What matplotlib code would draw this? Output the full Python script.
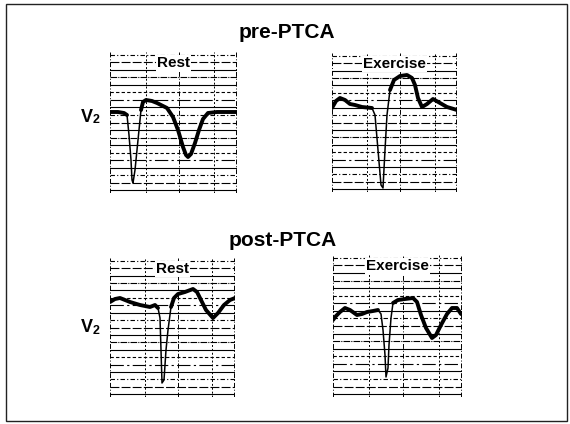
import numpy as np
import matplotlib
matplotlib.use("Agg")
import matplotlib.pyplot as plt
from matplotlib.patches import Rectangle

plt.rcParams['font.family'] = ['Liberation Sans', 'DejaVu Sans']

# ECG traces, lead V2 (time in ms, amplitude in mV)
rest_pre_t = [0, 40, 70, 85, 95, 105, 110, 115, 125, 135, 145, 155, 165, 180, 210, 235,
              285, 315, 340, 365, 380, 390, 405, 425, 445, 465, 490, 535, 635]
rest_pre_v = [0, 0, -0.05, -0.15, -1.15, -2.4, -3.4, -3.55, -2.9, -1.9, -0.9, 0.1, 0.5, 0.6,
              0.55, 0.45, 0.2, -0.25, -0.9, -1.75, -2.15, -2.25, -2.1, -1.55, -0.9, -0.35,
              -0.05, 0, 0]

ex_pre_t = [0, 20, 40, 65, 90, 115, 150, 200, 215, 230, 245, 255, 265, 275, 290, 310,
            340, 375, 400, 415, 430, 450, 475, 505, 540, 575, 625]
ex_pre_v = [0, 0.35, 0.5, 0.4, 0.2, 0.15, 0.05, 0, -0.35, -2.1, -3.85, -4.0, -2.1, -0.35,
            0.9, 1.4, 1.6, 1.65, 1.5, 1.15, 0.5, 0.05, 0.2, 0.45, 0.25, 0.05, -0.1]

rest_post_t = [0, 25, 50, 75, 100, 150, 200, 225, 240, 250, 255, 260, 270, 280, 290, 305,
               320, 340, 375, 415, 435, 455, 480, 515, 540, 570, 600, 625]
rest_post_v = [0.15, 0.3, 0.35, 0.25, 0.15, 0, -0.1, 0, -0.15, -0.65, -2.25, -3.9, -3.75,
               -2.25, -1.25, -0.1, 0.35, 0.55, 0.65, 0.8, 0.65, 0.25, -0.25, -0.65, -0.4,
               0, 0.25, 0.35]

ex_post_t = [0, 15, 35, 60, 85, 120, 145, 170, 200, 225, 240, 250, 260, 265, 275, 280,
             290, 300, 325, 360, 400, 420, 440, 465, 495, 515, 540, 570, 595, 620, 640]
ex_post_v = [-0.4, -0.2, 0, 0.2, 0.1, -0.15, -0.1, 0, 0.05, 0.1, -0.1, -0.9, -2.15, -3.25,
             -2.8, -1.65, -0.3, 0.45, 0.6, 0.65, 0.7, 0.5, -0.15, -0.8, -1.3, -1.15, -0.65,
             -0.1, 0.2, 0.2, -0.1]

panels = [
    # label, t, v, qrs window, xlim, ylim, pixel box (left, top, right, bottom)
    ("Rest", rest_pre_t, rest_pre_v, (85, 155), (0, 635), (-4.05, 3.0), (110, 52, 237, 193)),
    ("Exercise", ex_pre_t, ex_pre_v, (205, 285), (0, 625), (-4.2, 2.75), (332, 53, 457, 192)),
    ("Rest", rest_post_t, rest_post_v, (240, 305), (0, 625), (-4.6, 2.35), (110, 258, 235, 397)),
    ("Exercise", ex_post_t, ex_post_v, (228, 292), (0, 645), (-4.25, 2.85), (333, 255, 462, 397)),
]

W, H = 570, 424
fig = plt.figure(figsize=(W / 100, H / 100), dpi=100)

bg = fig.add_axes([0, 0, 1, 1])
bg.set_xlim(0, W)
bg.set_ylim(H, 0)
bg.axis('off')
bg.add_patch(Rectangle((6, 4), 561, 417, fill=False, ec='#222222', lw=1.0))

bg.text(287, 33, "pre-PTCA", ha='center', va='center', fontsize=15, fontweight='bold')
bg.text(283, 240, "post-PTCA", ha='center', va='center', fontsize=15, fontweight='bold')
for y in (117, 328):
    bg.text(81, y, "V", ha='left', va='center', fontsize=13, fontweight='bold')
    bg.text(93, y + 3, "2", ha='left', va='center', fontsize=9, fontweight='bold')

dash_styles = ['-', (0, (8, 2)), (0, (4, 2, 1, 2)), '-', (0, (12, 3, 2, 3)),
               (0, (3, 2)), '-', (0, (6, 1, 1, 1))]

for label, t, v, qrs, xl, yl, box in panels:
    l, tp, r, b = box
    ax = fig.add_axes([l / W, 1 - b / H, (r - l) / W, (b - tp) / H])
    ax.set_xlim(*xl)
    ax.set_ylim(*yl)
    ax.axis('off')

    # chart paper grid (broken scanned lines)
    for i, yf in enumerate(np.linspace(0.02, 0.98, 19)):
        ax.axhline(yl[0] + yf * (yl[1] - yl[0]), color='black', lw=0.8,
                   ls=dash_styles[i % len(dash_styles)], zorder=1)
    for j, xf in enumerate([0.0, 0.28, 0.54, 0.82, 0.995]):
        ax.axvline(xl[0] + xf * (xl[1] - xl[0]), color='black', lw=0.7,
                   ls=(0, (2, 2)) if j % 2 else (0, (5, 2, 1, 2)), zorder=1)

    t = np.array(t, dtype=float)
    v = np.array(v, dtype=float)
    ax.plot(t, v, color='black', lw=1.1, zorder=3, solid_capstyle='round',
            solid_joinstyle='round')
    slow = (t <= qrs[0]) | (t >= qrs[1])
    ax.plot(t, np.where(slow, v, np.nan), color='black', lw=2.8, zorder=4,
            solid_capstyle='round', solid_joinstyle='round')

    ax.text(0.5, 0.92, label, transform=ax.transAxes, ha='center', va='center',
            fontsize=11, fontweight='bold', zorder=5,
            bbox=dict(fc='white', ec='none', pad=1.0))

fig.savefig("out.png", dpi=100)
